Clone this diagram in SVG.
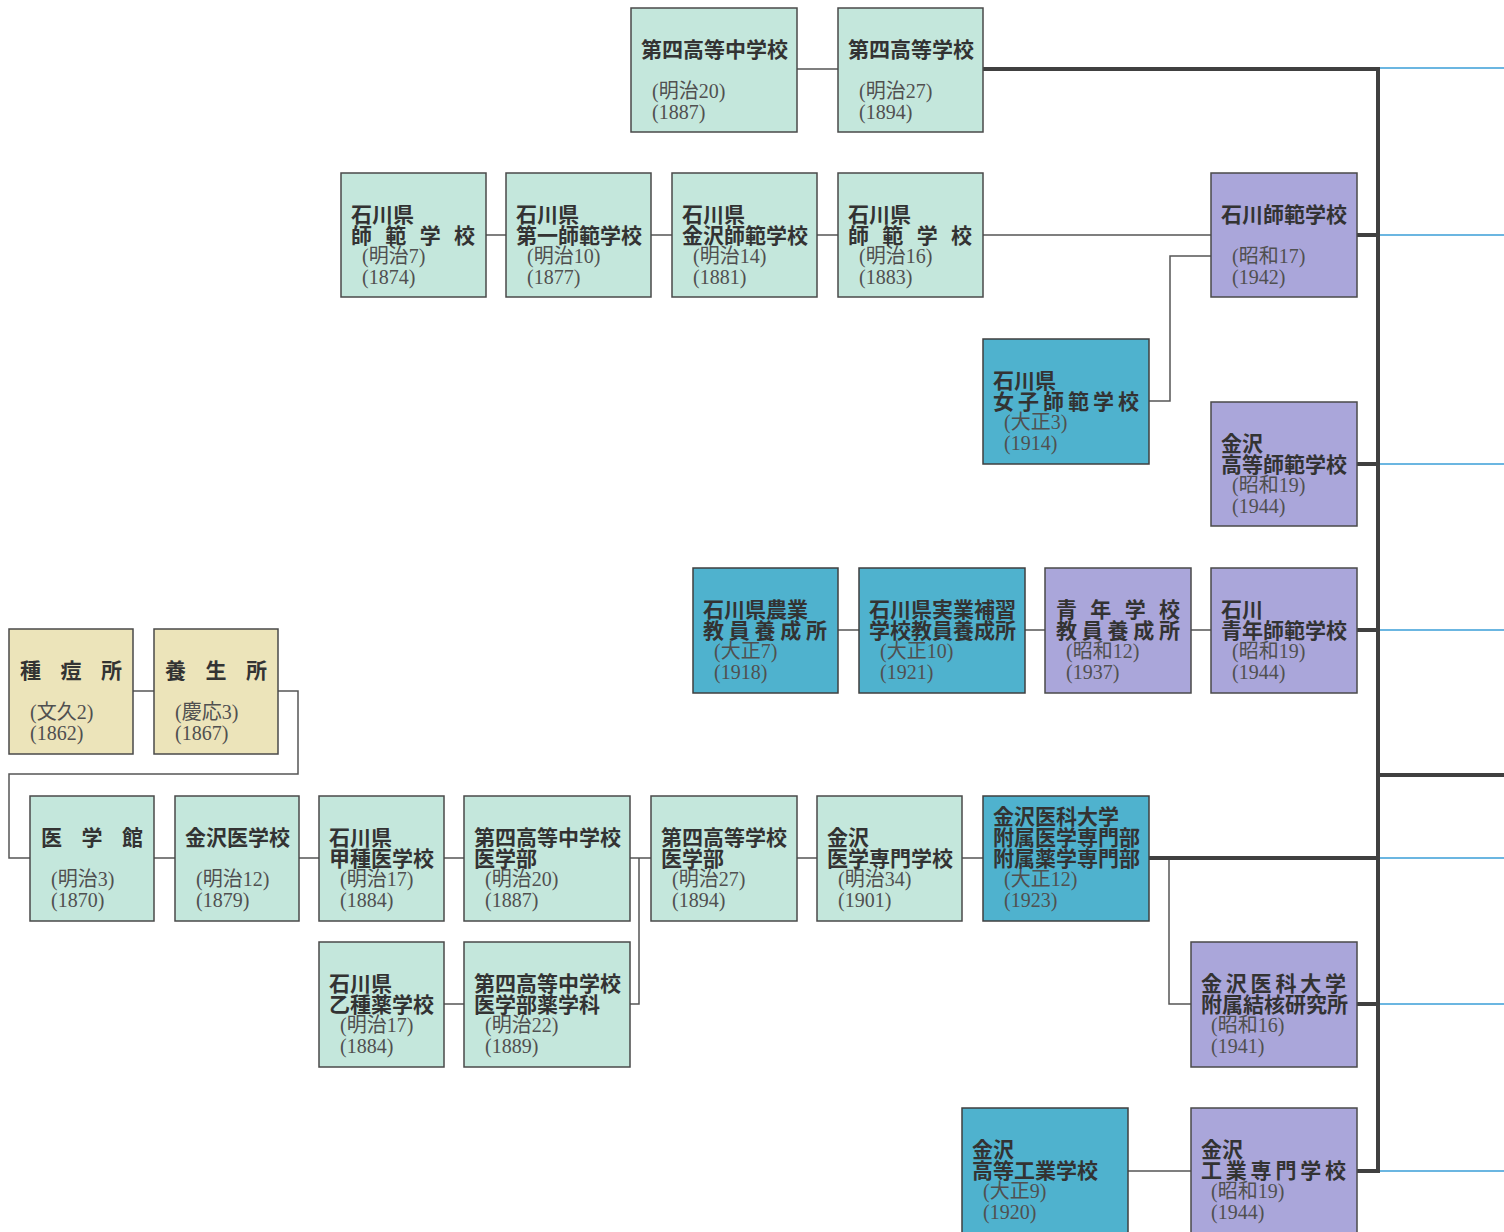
<svg xmlns="http://www.w3.org/2000/svg" width="1504" height="1232" viewBox="0 0 1504 1232">
<style>
.teal{fill:#c4e7dc;stroke:#4a4a4a;stroke-width:1.5}
.blue{fill:#4fb2ce;stroke:#3f3f3f;stroke-width:1.5}
.purp{fill:#aaa6da;stroke:#4a4a4a;stroke-width:1.5}
.tan{fill:#ece4ba;stroke:#4a4a4a;stroke-width:1.5}
.t{font-family:"Noto Sans CJK JP","Noto Sans",sans-serif;font-size:21px;font-weight:700;fill:#333}
.d{font-family:"Liberation Serif","Noto Sans CJK JP",serif;font-size:20px;fill:#505050}
.c{fill:none;stroke:#555;stroke-width:1.5}
.k{fill:none;stroke:#404040;stroke-width:4}
.b{fill:none;stroke:#3b9fd8;stroke-width:1.5}
</style>
<rect width="1504" height="1232" fill="#ffffff"/>
<g id="connectors">
<path class="c" d="M797 69H838M486 235H506M651 235H672M817 235H838M983 235H1211M1149 401H1170V256H1211M838 630H859M1025 630H1045M1191 630H1211M133 691H154M278 691H298V774H9V858H30M154 858H175M299 858H319M444 858H464M630 858H651M797 858H817M962 858H983M444 1004H464M630 1004H639V858M1169 858V1004H1191M1128 1171H1191"/>
<path class="k" d="M983 69H1378V1171H1357M1357 235H1378M1357 464H1378M1357 630H1378M1357 1004H1378M1149 858H1378M1378 775H1504"/>
<path class="b" d="M1380 68H1504M1380 235H1504M1380 464H1504M1380 630H1504M1380 858H1504M1380 1004H1504M1380 1171H1504"/>
</g>
<g id="n01"><rect class="teal" x="631" y="8" width="166" height="124"/><text class="t" x="641" y="57">第四高等中学校</text><text class="d" x="652" y="98">(明治20)</text><text class="d" x="652" y="119">(1887)</text></g>
<g id="n02"><rect class="teal" x="838" y="8" width="145" height="124"/><text class="t" x="848" y="57">第四高等学校</text><text class="d" x="859" y="98">(明治27)</text><text class="d" x="859" y="119">(1894)</text></g>
<g id="n03"><rect class="teal" x="341" y="173" width="145" height="124"/><text class="t" x="351" y="222">石川県</text><text class="t" x="351" y="243" textLength="124" lengthAdjust="spacing">師範学校</text><text class="d" x="362" y="263">(明治7)</text><text class="d" x="362" y="284">(1874)</text></g>
<g id="n04"><rect class="teal" x="506" y="173" width="145" height="124"/><text class="t" x="516" y="222">石川県</text><text class="t" x="516" y="243">第一師範学校</text><text class="d" x="527" y="263">(明治10)</text><text class="d" x="527" y="284">(1877)</text></g>
<g id="n05"><rect class="teal" x="672" y="173" width="145" height="124"/><text class="t" x="682" y="222">石川県</text><text class="t" x="682" y="243">金沢師範学校</text><text class="d" x="693" y="263">(明治14)</text><text class="d" x="693" y="284">(1881)</text></g>
<g id="n06"><rect class="teal" x="838" y="173" width="145" height="124"/><text class="t" x="848" y="222">石川県</text><text class="t" x="848" y="243" textLength="124" lengthAdjust="spacing">師範学校</text><text class="d" x="859" y="263">(明治16)</text><text class="d" x="859" y="284">(1883)</text></g>
<g id="n07"><rect class="purp" x="1211" y="173" width="146" height="124"/><text class="t" x="1221" y="222">石川師範学校</text><text class="d" x="1232" y="263">(昭和17)</text><text class="d" x="1232" y="284">(1942)</text></g>
<g id="n08"><rect class="blue" x="983" y="339" width="166" height="125"/><text class="t" x="993" y="388">石川県</text><text class="t" x="993" y="409" textLength="146" lengthAdjust="spacing">女子師範学校</text><text class="d" x="1004" y="429">(大正3)</text><text class="d" x="1004" y="450">(1914)</text></g>
<g id="n09"><rect class="purp" x="1211" y="402" width="146" height="124"/><text class="t" x="1221" y="451">金沢</text><text class="t" x="1221" y="472">高等師範学校</text><text class="d" x="1232" y="492">(昭和19)</text><text class="d" x="1232" y="513">(1944)</text></g>
<g id="n10"><rect class="blue" x="693" y="568" width="145" height="125"/><text class="t" x="703" y="617">石川県農業</text><text class="t" x="703" y="638" textLength="124" lengthAdjust="spacing">教員養成所</text><text class="d" x="714" y="658">(大正7)</text><text class="d" x="714" y="679">(1918)</text></g>
<g id="n11"><rect class="blue" x="859" y="568" width="166" height="125"/><text class="t" x="869" y="617">石川県実業補習</text><text class="t" x="869" y="638">学校教員養成所</text><text class="d" x="880" y="658">(大正10)</text><text class="d" x="880" y="679">(1921)</text></g>
<g id="n12"><rect class="purp" x="1045" y="568" width="146" height="125"/><text class="t" x="1056" y="617" textLength="124" lengthAdjust="spacing">青年学校</text><text class="t" x="1056" y="638" textLength="124" lengthAdjust="spacing">教員養成所</text><text class="d" x="1066" y="658">(昭和12)</text><text class="d" x="1066" y="679">(1937)</text></g>
<g id="n13"><rect class="purp" x="1211" y="568" width="146" height="125"/><text class="t" x="1221" y="617">石川</text><text class="t" x="1221" y="638">青年師範学校</text><text class="d" x="1232" y="658">(昭和19)</text><text class="d" x="1232" y="679">(1944)</text></g>
<g id="n14"><rect class="tan" x="9" y="629" width="124" height="125"/><text class="t" x="20" y="678" textLength="102" lengthAdjust="spacing">種痘所</text><text class="d" x="30" y="719">(文久2)</text><text class="d" x="30" y="740">(1862)</text></g>
<g id="n15"><rect class="tan" x="154" y="629" width="124" height="125"/><text class="t" x="165" y="678" textLength="102" lengthAdjust="spacing">養生所</text><text class="d" x="175" y="719">(慶応3)</text><text class="d" x="175" y="740">(1867)</text></g>
<g id="n16"><rect class="teal" x="30" y="796" width="124" height="125"/><text class="t" x="41" y="845" textLength="102" lengthAdjust="spacing">医学館</text><text class="d" x="51" y="886">(明治3)</text><text class="d" x="51" y="907">(1870)</text></g>
<g id="n17"><rect class="teal" x="175" y="796" width="124" height="125"/><text class="t" x="185" y="845">金沢医学校</text><text class="d" x="196" y="886">(明治12)</text><text class="d" x="196" y="907">(1879)</text></g>
<g id="n18"><rect class="teal" x="319" y="796" width="125" height="125"/><text class="t" x="329" y="845">石川県</text><text class="t" x="329" y="866">甲種医学校</text><text class="d" x="340" y="886">(明治17)</text><text class="d" x="340" y="907">(1884)</text></g>
<g id="n19"><rect class="teal" x="464" y="796" width="166" height="125"/><text class="t" x="474" y="845">第四高等中学校</text><text class="t" x="474" y="866">医学部</text><text class="d" x="485" y="886">(明治20)</text><text class="d" x="485" y="907">(1887)</text></g>
<g id="n20"><rect class="teal" x="651" y="796" width="146" height="125"/><text class="t" x="661" y="845">第四高等学校</text><text class="t" x="661" y="866">医学部</text><text class="d" x="672" y="886">(明治27)</text><text class="d" x="672" y="907">(1894)</text></g>
<g id="n21"><rect class="teal" x="817" y="796" width="145" height="125"/><text class="t" x="827" y="845">金沢</text><text class="t" x="827" y="866">医学専門学校</text><text class="d" x="838" y="886">(明治34)</text><text class="d" x="838" y="907">(1901)</text></g>
<g id="n22"><rect class="blue" x="983" y="796" width="166" height="125"/><text class="t" x="993" y="824">金沢医科大学</text><text class="t" x="993" y="845">附属医学専門部</text><text class="t" x="993" y="866">附属薬学専門部</text><text class="d" x="1004" y="886">(大正12)</text><text class="d" x="1004" y="907">(1923)</text></g>
<g id="n23"><rect class="teal" x="319" y="942" width="125" height="125"/><text class="t" x="329" y="991">石川県</text><text class="t" x="329" y="1012">乙種薬学校</text><text class="d" x="340" y="1032">(明治17)</text><text class="d" x="340" y="1053">(1884)</text></g>
<g id="n24"><rect class="teal" x="464" y="942" width="166" height="125"/><text class="t" x="474" y="991">第四高等中学校</text><text class="t" x="474" y="1012">医学部薬学科</text><text class="d" x="485" y="1032">(明治22)</text><text class="d" x="485" y="1053">(1889)</text></g>
<g id="n25"><rect class="purp" x="1191" y="942" width="166" height="125"/><text class="t" x="1201" y="991" textLength="145" lengthAdjust="spacing">金沢医科大学</text><text class="t" x="1201" y="1012">附属結核研究所</text><text class="d" x="1211" y="1032">(昭和16)</text><text class="d" x="1211" y="1053">(1941)</text></g>
<g id="n26"><rect class="blue" x="962" y="1108" width="166" height="130"/><text class="t" x="972" y="1157">金沢</text><text class="t" x="972" y="1178">高等工業学校</text><text class="d" x="983" y="1198">(大正9)</text><text class="d" x="983" y="1219">(1920)</text></g>
<g id="n27"><rect class="purp" x="1191" y="1108" width="166" height="130"/><text class="t" x="1201" y="1157">金沢</text><text class="t" x="1201" y="1178" textLength="145" lengthAdjust="spacing">工業専門学校</text><text class="d" x="1211" y="1198">(昭和19)</text><text class="d" x="1211" y="1219">(1944)</text></g>
</svg>
